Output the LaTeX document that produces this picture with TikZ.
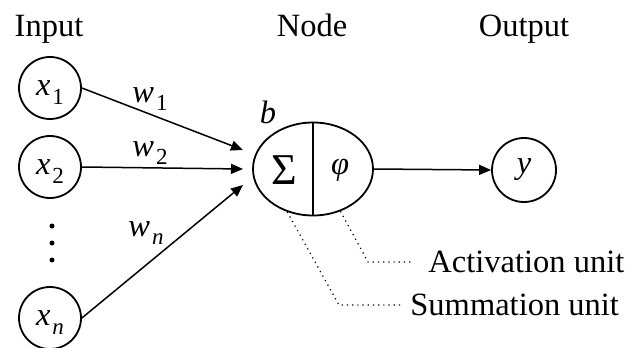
\documentclass[tikz,border=0pt]{standalone}
\usepackage{fontspec}
\setmainfont{Liberation Serif}
\usetikzlibrary{arrows.meta,shapes.geometric}
\newcommand{\vsub}[2]{\textit{#1}\kern1pt\raisebox{-4.3pt}[0pt][0pt]{\fontsize{11.5}{11.5}\selectfont #2}}

\begin{document}
\begin{tikzpicture}[x=0.5pt,y=-0.5pt,font=\fontsize{16.25}{19.5}\selectfont,
  neuron/.style={draw,circle,line width=0.9pt,minimum size=31pt,inner sep=0pt},
  wire/.style={line width=0.75pt,-{Triangle[length=6pt,width=5pt]}},
  leader/.style={dotted,line width=0.6pt},
  unitlbl/.style={anchor=west,inner sep=5pt}]
\useasboundingbox (0,0) rectangle (635,347);
% headers
\node[anchor=base] (hin) at (49,37) {Input};
\node[anchor=base] (hnode) at (312,37) {Node};
\node[anchor=base] (hout) at (524,37) {Output};
% inputs
\node[neuron] (x1) at (50,88) {\vsub{x}{1}};
\node[neuron] (x2) at (50,167) {\vsub{x}{2}};
\node[neuron] (xn) at (50,318) {\vsub{x}{\textit{n}}};
\foreach \y in {226,243,260}{\fill (52,\y) circle (1.25pt);}
% summing node
\node[draw,ellipse,line width=0.9pt,minimum width=60pt,minimum height=46.5pt,inner sep=0pt] (node) at (313,169) {};
\draw[line width=0.9pt] (node.north) -- (node.south);
\node (sum) at (284,170) {\fontsize{22}{22}\selectfont Σ};
\node (phi) at (340,170) {\textit{φ}};
\node (bias) at (268,112) {\textit{b}};
\node[neuron,minimum size=32pt] (y) at (524,170) {\textit{y}};
% weights
\coordinate (a1) at (243,150);
\coordinate (a2) at (243,169);
\coordinate (an) at (243,185);
\draw[wire] (x1.east) -- (a1);
\draw[wire] (x2.east) -- (a2);
\draw[wire] (xn.east) -- (an);
\node (w1) at (150,95) {\vsub{w}{1}};
\node (w2) at (150,149) {\vsub{w}{2}};
\node (wn) at (146,229) {\vsub{w}{\textit{n}}};
\draw[wire] (node.east) -- (y.west);
% unit labels
\node[unitlbl] (act) at (418,262) {Activation unit};
\node[unitlbl] (summ) at (400,305) {Summation unit};
\coordinate (actc) at (368,262);
\coordinate (sumc) at (339,305);
\draw[leader,shorten >=3pt] (node.303) -- (actc) -- (act.west);
\draw[leader] (node.239) -- (sumc) -- (summ.west);
\end{tikzpicture}
\end{document}
